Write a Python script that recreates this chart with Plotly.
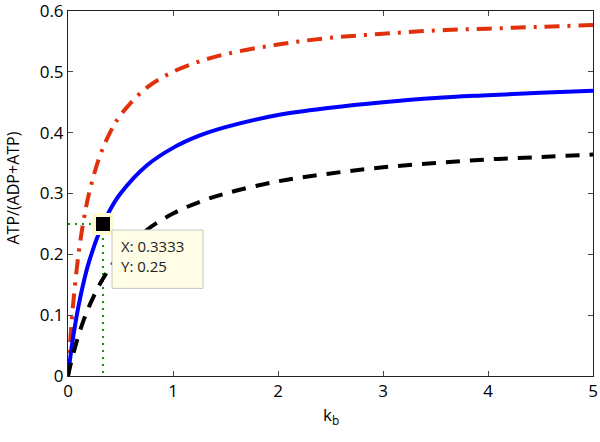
import plotly.graph_objects as go

# sampled k_b values
kb = [0, 0.02, 0.05, 0.1, 0.15, 0.2, 0.3, 0.4, 0.5, 0.75, 1, 1.25, 1.5, 2, 2.5, 3, 3.5, 4, 4.5, 5]

# read-off values of ATP/(ADP+ATP)
red_vals = [0, 0.0545, 0.12, 0.2, 0.257, 0.3, 0.36, 0.4, 0.429, 0.474, 0.5, 0.517, 0.529,
            0.545, 0.556, 0.5625, 0.568, 0.571, 0.574, 0.577]
blue_vals = [0, 0.0283, 0.0652, 0.115, 0.155, 0.1875, 0.237, 0.273, 0.3, 0.346, 0.375, 0.395,
             0.409, 0.429, 0.441, 0.45, 0.457, 0.4615, 0.4655, 0.469]
black_vals = [0, 0.0154, 0.0364, 0.0667, 0.0923, 0.114, 0.15, 0.178, 0.2, 0.24, 0.267, 0.286,
              0.3, 0.32, 0.333, 0.343, 0.35, 0.356, 0.36, 0.364]

tip_x = 0.3333
tip_y = 0.25

x_ticks = [0, 1, 2, 3, 4, 5]
y_ticks = [0, 0.1, 0.2, 0.3, 0.4, 0.5, 0.6]
y_tick_text = ["0", "0.1", "0.2", "0.3", "0.4", "0.5", "0.6"]

FONT = "Open Sans"

fig = go.Figure()

# green dotted guide lines for the data tip
fig.add_trace(go.Scatter(x=[0, tip_x, tip_x], y=[tip_y, tip_y, 0], mode="lines",
                         line=dict(color="#1a901a", width=2, dash="2px,5px"),
                         hoverinfo="skip", showlegend=False))

fig.add_trace(go.Scatter(x=kb, y=red_vals, mode="lines", line_shape="spline",
                         line=dict(color="#E0300C", width=4, dash="15px,8px,3px,8px"),
                         showlegend=False))
fig.add_trace(go.Scatter(x=kb, y=blue_vals, mode="lines", line_shape="spline",
                         line=dict(color="#0000FF", width=4),
                         showlegend=False))
fig.add_trace(go.Scatter(x=kb, y=black_vals, mode="lines", line_shape="spline",
                         line=dict(color="#000000", width=4, dash="14px,10px"),
                         showlegend=False))

# data tip marker
fig.add_trace(go.Scatter(x=[tip_x], y=[tip_y], mode="markers",
                         marker=dict(symbol="square", size=18, color="black",
                                     line=dict(color="#FFFAD2", width=4)),
                         showlegend=False))

# data tip box
fig.add_shape(type="rect", xref="x", yref="y", x0=0.419, x1=1.286, y0=0.144, y1=0.240,
              fillcolor="#FFFDE6", line=dict(color="#C8C8C8", width=1), layer="above")
fig.add_annotation(xref="x", yref="y", x=0.49, y=0.233, xanchor="left", yanchor="top",
                   text="X: 0.3333<br>Y: 0.25", showarrow=False, align="left",
                   font=dict(family=FONT, size=15, color="#222222"))

# axis titles
fig.add_annotation(xref="paper", yref="paper", x=0, y=0.5, xanchor="center", yanchor="middle",
                   xshift=-56, yshift=5, textangle=-90, showarrow=False,
                   text="ATP/(ADP+ATP)", font=dict(family=FONT, size=16, color="black"))
fig.add_annotation(xref="paper", yref="paper", x=0.5, y=0, xanchor="center", yanchor="middle",
                   yshift=-39, showarrow=False,
                   text="k<sub>b</sub>", font=dict(family=FONT, size=17, color="black"))

fig.update_layout(
    width=600, height=442,
    margin=dict(l=68, r=7, t=11, b=66),
    paper_bgcolor="white", plot_bgcolor="white",
    font=dict(family=FONT, size=17, color="black"),
    xaxis=dict(range=[0, 5], tickvals=x_ticks, ticks="inside", ticklen=5, tickcolor="#444",
               showline=True, linecolor="#222", linewidth=1, mirror="ticks",
               showgrid=False, zeroline=False, automargin=False,
               ticklabeloverflow="allow",
               tickfont=dict(family=FONT, size=17)),
    yaxis=dict(range=[0, 0.6], tickvals=y_ticks, ticktext=y_tick_text, ticks="inside",
               ticklen=5, tickcolor="#444",
               showline=True, linecolor="#222", linewidth=1, mirror="ticks",
               showgrid=False, zeroline=False, automargin=False,
               ticklabeloverflow="allow",
               tickfont=dict(family=FONT, size=17)),
)

fig.write_html("out.html", config={"displayModeBar": False},
               post_script="document.body.style.margin='0';document.body.style.padding='0';")
